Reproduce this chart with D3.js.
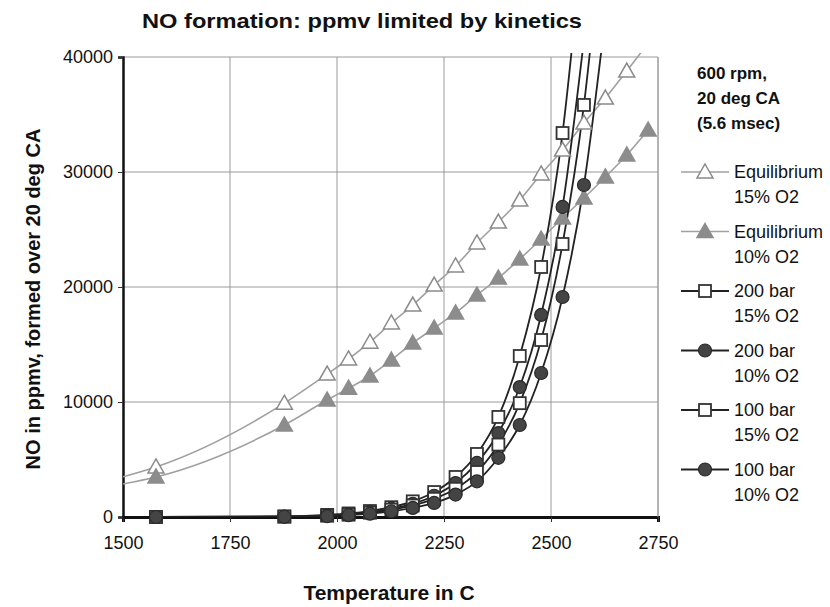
<!DOCTYPE html>
<meta charset="utf-8">
<style>
    body { margin: 0; background: #fff; }
    text { font-family: "Liberation Sans", Arial, sans-serif; fill: #111; }
    .grid line { stroke: #9a9a9a; stroke-width: 1px; }
    .tick text { font-size: 18px; }
</style>
<svg width="830" height="607"></svg>
<script src="https://d3js.org/d3.v7.min.js"></script>
<script>
    // temperatures (C) of the computed points
    var tempsC = [1577, 1877, 1977, 2027, 2077, 2127, 2177, 2227, 2277, 2327, 2377, 2427, 2477, 2527, 2577, 2627, 2677, 2727];

    // equilibrium NO (ppmv); the last 15% value is above the chart top
    var eq15 = [4350, 9900, 12430, 13740, 15200, 16870, 18430, 20170, 21830, 23830, 25650, 27560, 29830, 31910, 34260, 36430, 38780, 41200];
    var eq10 = [3480, 8000, 10170, 11200, 12260, 13650, 15130, 16430, 17740, 19300, 20780, 22430, 24170, 26000, 27740, 29570, 31480, 33650];
    // where the equilibrium curves enter at the left edge (1500 C)
    var eqAt1500 = [3500, 2870];

    // kinetics-limited NO (ppmv), values over 40000 only continue the line
    var k200_15 = [0, 50, 180, 310, 520, 850, 1360, 2170, 3480, 5480, 8700, 14000, 21740, 33390, 51500];
    var k200_10 = [0, 40, 120, 230, 420, 720, 1150, 1850, 2950, 4700, 7300, 11300, 17570, 26960, 41500];
    var k100_15 = [0, 30, 110, 200, 370, 640, 1000, 1580, 2450, 3910, 6300, 9900, 15390, 23740, 35830, 54000];
    var k100_10 = [0, 20, 80, 160, 290, 500, 790, 1220, 1950, 3100, 5150, 8000, 12520, 19130, 28870, 43500];

    var xTicks = [1500, 1750, 2000, 2250, 2500, 2750];
    var yTicks = [0, 10000, 20000, 30000, 40000];
    var legendHead = ["600 rpm,", "20 deg CA", "(5.6 msec)"];

    var svg = d3.select("svg");
    var plotL = 123, plotR = 658, plotT = 57, plotB = 517;

    var x = d3.scaleLinear().domain([1500, 2750]).range([plotL, plotR]);
    var y = d3.scaleLinear().domain([0, 40000]).range([plotB, plotT]);

    svg.append("defs").append("clipPath").attr("id", "plot")
        .append("rect").attr("x", plotL).attr("y", plotT - 4)
        .attr("width", plotR - plotL).attr("height", plotB - plotT + 4);

    // grid
    var grid = svg.append("g").attr("class", "grid");
    grid.selectAll(".gx").data(xTicks.slice(1)).enter().append("line")
        .attr("x1", d => x(d)).attr("x2", d => x(d)).attr("y1", plotT).attr("y2", plotB);
    grid.selectAll(".gy").data(yTicks.slice(1)).enter().append("line")
        .attr("y1", d => y(d)).attr("y2", d => y(d)).attr("x1", plotL).attr("x2", plotR);

    // axes
    var xAxis = svg.append("g").attr("transform", "translate(0," + plotB + ")")
        .call(d3.axisBottom(x).tickValues(xTicks).tickSize(5).tickPadding(14).tickFormat(d3.format("d")));
    var yAxis = svg.append("g").attr("transform", "translate(" + plotL + ",0)")
        .call(d3.axisLeft(y).tickValues(yTicks).tickSize(5).tickPadding(5).tickFormat(d3.format("d")));
    xAxis.select(".domain").attr("stroke", "#111").attr("stroke-width", 3);
    yAxis.select(".domain").attr("stroke", "#111").attr("stroke-width", 2.5);
    svg.selectAll(".tick line").attr("stroke", "#333");

    var series = [
        { name: ["Equilibrium", "15% O2"], vals: eq15, start: eqAt1500[0], line: "#a0a0a0", lw: 1.6, mark: "tri", fill: "#fff", stroke: "#8a8a8a" },
        { name: ["Equilibrium", "10% O2"], vals: eq10, start: eqAt1500[1], line: "#a0a0a0", lw: 1.6, mark: "tri", fill: "#8c8c8c", stroke: "#8c8c8c" },
        { name: ["200 bar", "15% O2"], vals: k200_15, line: "#222", lw: 1.8, mark: "sq", fill: "#fff", stroke: "#333" },
        { name: ["200 bar", "10% O2"], vals: k200_10, line: "#222", lw: 1.8, mark: "circ", fill: "#444", stroke: "#2a2a2a" },
        { name: ["100 bar", "15% O2"], vals: k100_15, line: "#222", lw: 1.8, mark: "sq", fill: "#fff", stroke: "#333" },
        { name: ["100 bar", "10% O2"], vals: k100_10, line: "#222", lw: 1.8, mark: "circ", fill: "#444", stroke: "#2a2a2a" }
    ];

    var line = d3.line().curve(d3.curveMonotoneX).x(d => x(d[0])).y(d => y(d[1]));

    function drawMarker(g, kind, cx, cy, fill, stroke) {
        if (kind === "tri") {
            g.append("path")
                .attr("d", "M" + cx + "," + (cy - 8) + "L" + (cx + 8) + "," + (cy + 6) + "L" + (cx - 8) + "," + (cy + 6) + "Z")
                .attr("fill", fill).attr("stroke", stroke).attr("stroke-width", 1.5);
        } else if (kind === "sq") {
            g.append("rect").attr("x", cx - 6).attr("y", cy - 6).attr("width", 12).attr("height", 12)
                .attr("fill", fill).attr("stroke", stroke).attr("stroke-width", 1.8);
        } else {
            g.append("circle").attr("cx", cx).attr("cy", cy).attr("r", 6.5)
                .attr("fill", fill).attr("stroke", stroke).attr("stroke-width", 1.2);
        }
    }

    var plot = svg.append("g").attr("clip-path", "url(#plot)");
    series.forEach(function (s) {
        var pts = s.vals.map((v, i) => [tempsC[i], v]);
        if (s.start !== undefined) pts.unshift([1500, s.start]);
        plot.append("path").datum(pts).attr("d", line)
            .attr("fill", "none").attr("stroke", s.line).attr("stroke-width", s.lw);
    });
    var marks = svg.append("g");
    series.forEach(function (s) {
        s.vals.forEach(function (v, i) {
            if (v > 40000) return;
            drawMarker(marks, s.mark, x(tempsC[i]), y(v), s.fill, s.stroke);
        });
    });

    // right border of the plot
    svg.append("line").attr("x1", plotR).attr("x2", plotR).attr("y1", plotT).attr("y2", plotB)
        .attr("stroke", "#9a9a9a");

    // titles
    svg.append("text").attr("x", 362).attr("y", 28).attr("text-anchor", "middle")
        .attr("textLength", 440).attr("lengthAdjust", "spacingAndGlyphs")
        .style("font-size", "21px").style("font-weight", "bold")
        .text("NO formation: ppmv limited by kinetics");
    svg.append("text").attr("x", 389).attr("y", 600).attr("text-anchor", "middle")
        .style("font-size", "21px").style("font-weight", "bold")
        .text("Temperature in C");
    svg.append("text").attr("transform", "translate(40,299) rotate(-90)").attr("text-anchor", "middle")
        .style("font-size", "20px").style("font-weight", "bold")
        .text("NO in ppmv, formed over 20 deg CA");

    // legend
    var lg = svg.append("g");
    lg.selectAll(".head").data(legendHead).enter().append("text")
        .attr("x", 697).attr("y", (d, i) => 79 + i * 25)
        .style("font-size", "17px").style("font-weight", "bold").text(d => d);
    series.forEach(function (s, i) {
        var ly = 178 + i * 59.5;
        lg.append("line").attr("x1", 681).attr("x2", 729).attr("y1", ly - 6).attr("y2", ly - 6)
            .attr("stroke", s.line).attr("stroke-width", s.lw);
        drawMarker(lg, s.mark, 705, ly - 6, s.fill, s.stroke);
        lg.append("text").attr("x", 734).attr("y", ly).style("font-size", "18px").text(s.name[0]);
        lg.append("text").attr("x", 734).attr("y", ly + 25).style("font-size", "18px").text(s.name[1]);
    });
</script>
